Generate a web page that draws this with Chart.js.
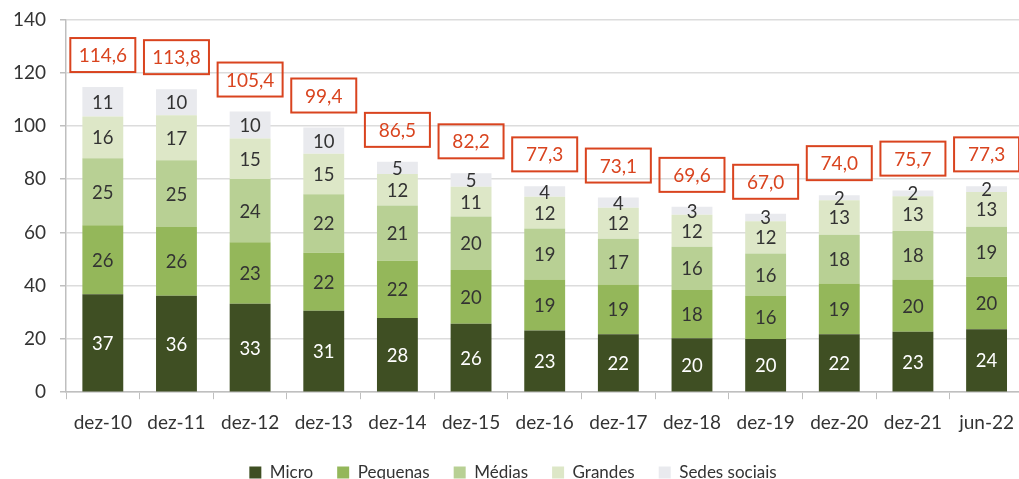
<!DOCTYPE html>
<html>
<head>
<meta charset="utf-8">
<script src="https://cdn.jsdelivr.net/npm/chart.js@4"></script>
<style>
  body { margin: 0; overflow: hidden; background: #fff; }
  #caixa { width: 1026px; height: 497px; margin-top: -6px; }
</style>
</head>
<body>
<div id="caixa"><canvas id="grafico"></canvas></div>
<script>
// periodos e valores (mil milhões de euros)
var periodos = ['dez-10', 'dez-11', 'dez-12', 'dez-13', 'dez-14', 'dez-15', 'dez-16', 'dez-17', 'dez-18', 'dez-19', 'dez-20', 'dez-21', 'jun-22'];
var micro = [36.8, 36.2, 33.2, 30.6, 27.9, 25.7, 23.2, 21.8, 20.3, 20.0, 21.8, 22.7, 23.6];
var pequenas = [25.9, 25.8, 23.1, 21.8, 21.5, 20.2, 19.1, 18.6, 18.1, 16.1, 19.0, 19.6, 19.8];
var medias = [25.2, 25.1, 23.8, 21.9, 20.7, 20.1, 19.2, 17.2, 16.2, 16.0, 18.3, 18.2, 18.7];
var grandes = [15.6, 16.9, 15.2, 15.2, 11.8, 11.2, 11.9, 11.7, 12.0, 12.1, 13.0, 13.1, 13.1];
var sedes = [11.1, 9.8, 10.1, 9.9, 4.6, 5.0, 3.9, 3.8, 3.0, 2.8, 1.9, 2.1, 2.1];
var totais = [114.6, 113.8, 105.4, 99.4, 86.5, 82.2, 77.3, 73.1, 69.6, 67.0, 74.0, 75.7, 77.3];

var fonte = 'Lato, "Open Sans", sans-serif';
var vermelho = '#d9441f';

// escreve os valores dentro das barras e os totais nas caixas
const rotulos = {
    id: 'rotulos',
    afterDatasetsDraw(chart) {
        const ctx = chart.ctx;
        ctx.save();
        ctx.textAlign = 'center';
        ctx.textBaseline = 'middle';
        ctx.font = '18.5px ' + fonte;
        chart.data.datasets.forEach(function (ds, i) {
            const meta = chart.getDatasetMeta(i);
            meta.data.forEach(function (barra, j) {
                const meio = (barra.y + barra.base) / 2;
                ctx.fillStyle = i == 0 ? '#ffffff' : '#333333';
                ctx.fillText(Math.round(ds.data[j]), barra.x, meio + 1);
            });
        });
        const yScale = chart.scales.y;
        const xScale = chart.scales.x;
        ctx.font = '19px ' + fonte;
        ctx.lineWidth = 2;
        for (let j = 0; j < totais.length; j++) {
            const x = xScale.getPixelForValue(j);
            const y = yScale.getPixelForValue(totais[j]) - 32;
            ctx.strokeStyle = vermelho;
            ctx.strokeRect(x - 32.5, y - 17, 65, 34);
            ctx.fillStyle = vermelho;
            ctx.fillText(totais[j].toFixed(1).replace('.', ','), x, y + 1);
        }
        ctx.restore();
    }
};

const ctx1 = document.getElementById('grafico');

new Chart(ctx1, {
    type: 'bar',
    data: {
        labels: periodos,
        datasets: [
            { label: 'Micro', data: micro, backgroundColor: '#3f4f23' },
            { label: 'Pequenas', data: pequenas, backgroundColor: '#94b75a' },
            { label: 'Médias', data: medias, backgroundColor: '#b8d094' },
            { label: 'Grandes', data: grandes, backgroundColor: '#dde7c7' },
            { label: 'Sedes sociais', data: sedes, backgroundColor: '#e9eaee' }
        ]
    },
    options: {
        responsive: true,
        maintainAspectRatio: false,
        animation: false,
        datasets: {
            bar: { categoryPercentage: 1, barPercentage: 0.555 }
        },
        layout: { padding: { top: 8, right: 0, left: 0, bottom: 0 } },
        plugins: {
            tooltip: { enabled: false },
            legend: {
                position: 'bottom',
                labels: {
                    boxWidth: 12,
                    boxHeight: 12,
                    padding: 24,
                    color: '#333333',
                    font: { family: fonte, size: 17 }
                }
            }
        },
        scales: {
            x: {
                stacked: true,
                afterFit: function (escala) { escala.height -= 6; },
                grid: { display: true, drawOnChartArea: false, tickLength: 7, tickColor: '#bfbfbf' },
                border: { color: '#bfbfbf', width: 1.5 },
                ticks: { color: '#333333', padding: 12, font: { family: fonte, size: 19 } }
            },
            y: {
                stacked: true,
                min: 0,
                max: 140,
                afterFit: function (escala) { escala.width = 66; },
                grid: { color: '#dcdcdc', lineWidth: 1.5, tickLength: 6, tickColor: '#bfbfbf' },
                border: { color: '#bfbfbf', width: 1.5 },
                ticks: { stepSize: 20, color: '#333333', padding: 14, font: { family: fonte, size: 19 } }
            }
        }
    },
    plugins: [rotulos]
});
</script>
</body>
</html>
